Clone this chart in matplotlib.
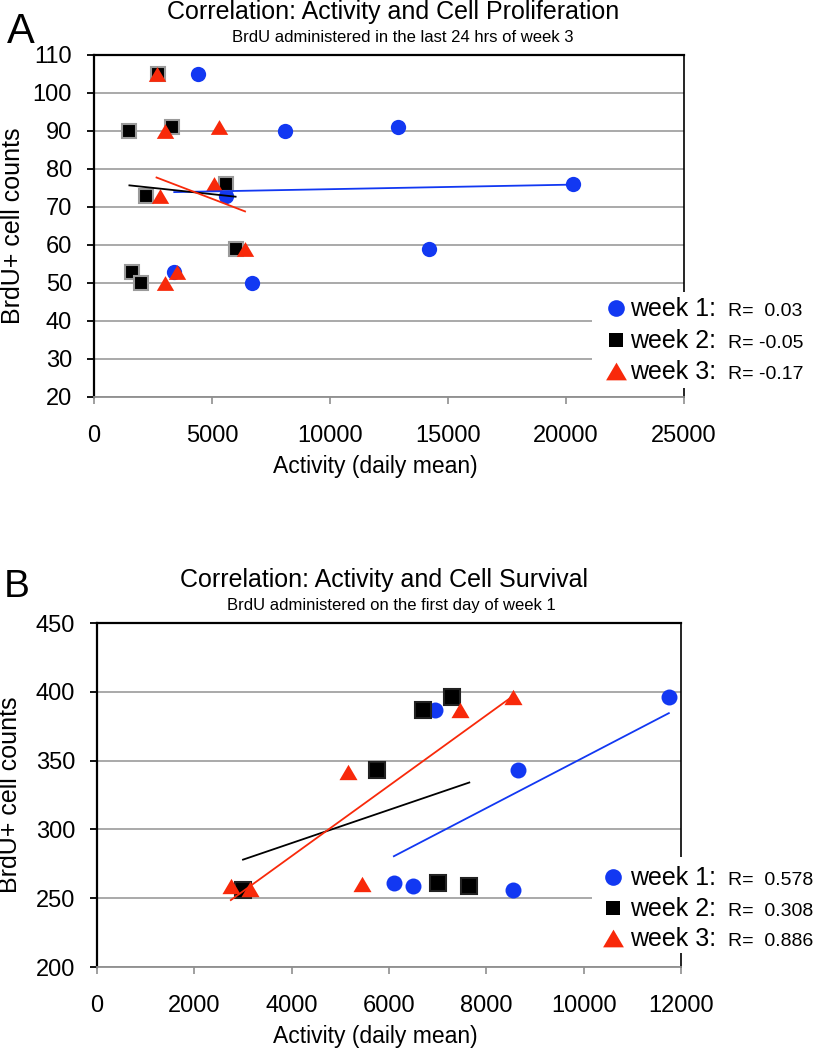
import numpy as np
import matplotlib
matplotlib.use("Agg")
import matplotlib.pyplot as plt
from matplotlib.lines import Line2D
from matplotlib.patches import Rectangle
from matplotlib.path import Path

plt.rcParams['font.family'] = ['Liberation Sans', 'DejaVu Sans']

# ---------------- data ----------------
# Panel A: Activity vs BrdU+ cell counts (proliferation)
w1A_x = [4400, 8100, 12900, 20300, 14200, 5600, 3400, 6700]
w1A_y = [105, 90, 91, 76, 59, 73, 53, 50]
w2A_x = [2700, 1500, 3300, 2200, 5600, 6000, 1600, 2000]
w2A_y = [105, 90, 91, 73, 76, 59, 53, 50]
w3A_x = [2650, 3000, 5300, 5100, 2800, 6400, 3500, 3000]
w3A_y = [105, 90, 91, 76, 73, 59, 53, 50]
rA = ["R=  0.03", "R= -0.05", "R= -0.17"]

# Panel B: Activity vs BrdU+ cell counts (survival)
w1B_x = [6950, 11750, 8650, 6100, 6500, 8550]
w1B_y = [387, 396, 343, 261, 259, 256]
w2B_x = [6700, 7300, 5750, 3000, 7000, 7650]
w2B_y = [387, 396, 343, 256, 261, 259]
w3B_x = [7450, 8550, 5150, 2750, 3150, 5450]
w3B_y = [387, 396, 342, 259, 257, 260]
rB = ["R=  0.578", "R=  0.308", "R=  0.886"]

week_labels = ["week 1:", "week 2:", "week 3:"]
xticksA = [0, 5000, 10000, 15000, 20000, 25000]
yticksA = [20, 30, 40, 50, 60, 70, 80, 90, 100, 110]
xticksB = [0, 2000, 4000, 6000, 8000, 10000, 12000]
yticksB = [200, 250, 300, 350, 400, 450]

# ---------------- style ----------------
BLUE = '#1238F2'
RED = '#F8290A'
BLACK = '#000000'
GRID = '#a3a3a3'
TRI = Path([(0, 0.85), (-1, -0.85), (1, -0.85), (0, 0.85)], closed=True)

W, H = 815, 1050
fig = plt.figure(figsize=(W / 100, H / 100), dpi=100)


def fx(p):
    return p / W


def fy(p):
    return 1 - p / H


def style_axes(ax, xticks, yticks, xlabc, ylabx):
    ax.set_xticks(xticks)
    ax.set_yticks(yticks)
    ax.set_xlim(xticks[0], xticks[-1])
    ax.set_ylim(yticks[0], yticks[-1])
    ax.yaxis.grid(True, color=GRID, linewidth=1.3)
    ax.set_axisbelow(True)
    for s in ['left', 'top']:
        ax.spines[s].set_color('black')
        ax.spines[s].set_linewidth(1.6)
    ax.spines['right'].set_color('black')
    ax.spines['right'].set_linewidth(1.2)
    ax.spines['bottom'].set_color('#8f8f8f')
    ax.spines['bottom'].set_linewidth(1.3)
    ax.tick_params(axis='y', direction='out', length=5, width=1.3,
                   color='black', pad=10.8, labelsize=17, right=False)
    ax.tick_params(axis='x', direction='out', length=5, width=1.2,
                   color='#8f8f8f', pad=15, labelsize=17, top=False)
    ax.set_xlabel('Activity (daily mean)', fontsize=16.5)
    ax.xaxis.set_label_coords(xlabc[0], xlabc[1])
    ax.xaxis.label.set_va('center')
    ax.set_ylabel('BrdU+ cell counts', fontsize=18)
    ax.yaxis.set_label_coords(ylabx, 0.5)
    ax.yaxis.label.set_va('center')


def draw_series(ax, xs, ys, sq_edge, sizes):
    specs = [('o', BLUE, BLUE, sizes[0], 0),
             ('s', BLACK, sq_edge, sizes[1], 1.5),
             (TRI, RED, RED, sizes[2], 0)]
    for (x, y), (mk, fc, ec, ms, mew) in zip(zip(xs, ys), specs):
        ax.plot(x, y, linestyle='none', marker=mk, markersize=ms,
                markerfacecolor=fc, markeredgecolor=ec, markeredgewidth=mew,
                zorder=3, clip_on=False)
    for (x, y), c in zip(zip(xs, ys), [BLUE, BLACK, RED]):
        xa = np.asarray(x, float)
        ya = np.asarray(y, float)
        m, b = np.polyfit(xa, ya, 1)
        xx = np.array([xa.min(), xa.max()])
        ax.plot(xx, m * xx + b, color=c, linewidth=1.3, zorder=4)


def draw_legend(box, rows_y, mx, rtexts, msizes):
    x0, y0, x1, y1 = box
    fig.add_artist(Rectangle((fx(x0), fy(y1)), (x1 - x0) / W, (y1 - y0) / H,
                             transform=fig.transFigure, facecolor='white',
                             edgecolor='none', zorder=5))
    markers = [('o', BLUE), ('s', BLACK), (TRI, RED)]
    for (mk, col), y, lab, rt, ms in zip(markers, rows_y, week_labels, rtexts, msizes):
        fig.add_artist(Line2D([fx(mx)], [fy(y)], transform=fig.transFigure,
                              linestyle='none', marker=mk, markersize=ms,
                              markerfacecolor=col, markeredgecolor=col,
                              markeredgewidth=0, zorder=6))
        fig.text(fx(630), fy(y + 8), lab, fontsize=18, ha='left',
                 va='baseline', zorder=6)
        fig.text(fx(728), fy(y + 8), rt, fontsize=14, ha='left',
                 va='baseline', zorder=6)


# ---------------- panel A ----------------
axA = fig.add_axes([fx(94), fy(397), (684 - 94) / W, (397 - 55) / H])
draw_series(axA, [w1A_x, w2A_x, w3A_x], [w1A_y, w2A_y, w3A_y],
            '#9a9a9a', [11, 10, 12.5])
style_axes(axA, xticksA, yticksA, ((375 - 94) / 590, -(467 - 397) / 342),
           (12.5 - 94) / 590)
draw_legend((592, 292, 815, 388), [308, 340, 371], 616, rA, [12, 9.5, 15])

fig.text(fx(7), fy(43), 'A', fontsize=30, ha='left', va='baseline')
fig.text(fx(167), fy(19), 'Correlation: Activity and Cell Proliferation',
         fontsize=18, ha='left', va='baseline')
fig.text(fx(232), fy(42), 'BrdU administered in the last 24 hrs of week 3',
         fontsize=12, ha='left', va='baseline')

# ---------------- panel B ----------------
axB = fig.add_axes([fx(97), fy(967), (681 - 97) / W, (967 - 623) / H])
draw_series(axB, [w1B_x, w2B_x, w3B_x], [w1B_y, w2B_y, w3B_y],
            '#222222', [11.5, 11, 13])
style_axes(axB, xticksB, yticksB, ((375 - 97) / 584, -(1037 - 967) / 344),
           (10 - 97) / 584)
draw_legend((592, 857, 815, 953), [877, 908, 938], 613, rB, [12, 9.5, 15])

fig.text(fx(4), fy(597), 'B', fontsize=28, ha='left', va='baseline')
fig.text(fx(180), fy(587), 'Correlation: Activity and Cell Survival',
         fontsize=18, ha='left', va='baseline')
fig.text(fx(227), fy(610), 'BrdU administered on the first day of week 1',
         fontsize=12, ha='left', va='baseline')

fig.savefig('out.png', dpi=100)
